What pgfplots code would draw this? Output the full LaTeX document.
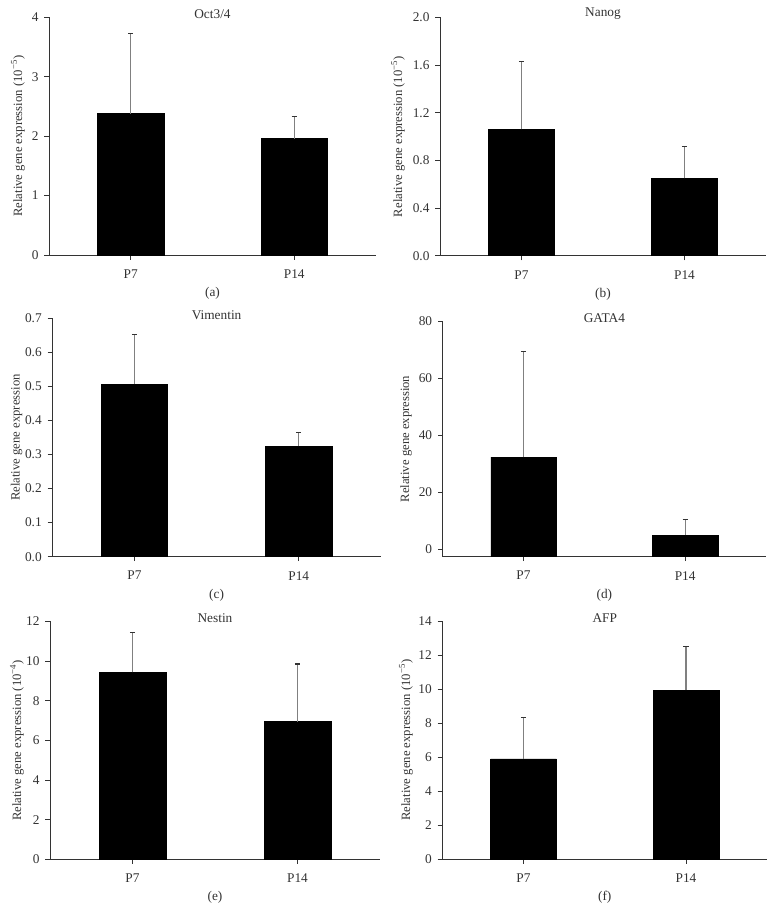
\documentclass[border=0pt]{standalone}
\usepackage{fontspec}
\setmainfont{Liberation Serif}
\usepackage{pgfplots}
\pgfplotsset{compat=1.18}
\definecolor{txt}{HTML}{333333}
\definecolor{axc}{HTML}{333333}
\definecolor{errc}{HTML}{808080}
\pgfplotsset{
  panel/.style={
    scale only axis,
    axis lines*=left,
    axis line style={axc, line width=0.6pt},
    tick style={axc, line width=0.6pt},
    tick align=outside,
    major tick length=3.4pt,
    xmin=-0.5, xmax=1.5,
    xtick={0,1}, xticklabels={P7,P14},
    ymin=0,
    font=\fontsize{10}{12}\selectfont,
    every tick label/.append style={text=txt, font=\fontsize{10}{12}\selectfont},
    /pgf/number format/assume math mode=true,
    yticklabel style={xshift=-1pt},
    xticklabel style={yshift=-4pt},
    every axis title/.style={at={(0.5,1)}, anchor=center, yshift=2.5pt, text=txt, font=\fontsize{10}{12}\selectfont},
    every axis x label/.style={at={(0.5,0)}, anchor=center, yshift=-28.8pt, text=txt, font=\fontsize{10}{12}\selectfont},
    clip=false,
  },
  ylab/.style={every axis y label/.style={at={(-#1,0.5)}, rotate=90, anchor=center, text=txt, font=\fontsize{9.5}{11}\selectfont}},
  mybar/.style={
    ybar, bar width=0.405, fill=black, draw=black,
    error bars/.cd, y dir=plus, y explicit,
    error bar style={errc, line width=1pt},
    error mark options={black!80, line width=0.8pt, mark size=2pt, rotate=90},
  },
}
\begin{document}
\begin{tikzpicture}
\path[use as bounding box] (0,0) rectangle (582pt,682.5pt);
% (a)
\begin{axis}[panel, ylab=0.0948, at={(36.75pt,491.25pt)}, anchor=south west,
  width=245.25pt, height=178.3pt, ymax=4, ytick={0,1,2,3,4},
  title={Oct3/4}, xlabel={(a)},
  ylabel={Relative gene expression (10\textsuperscript{−5})}]
\addplot[mybar] coordinates {(0,2.38) +- (0,1.35) (1,1.96) +- (0,0.37)};
\end{axis}
% (b)
\begin{axis}[panel, ylab=0.1288, at={(330pt,490.7pt)}, anchor=south west,
  width=244.5pt, height=178.8pt, ymax=2, ytick={0,0.4,0.8,1.2,1.6,2.0},
  yticklabel style={/pgf/number format/.cd, fixed, fixed zerofill, precision=1},
  title={Nanog}, xlabel={(b)},
  ylabel={Relative gene expression (10\textsuperscript{−5})}]
\addplot[mybar] coordinates {(0,1.061) +- (0,0.570) (1,0.649) +- (0,0.271)};
\end{axis}
% (c)
\begin{axis}[panel, ylab=0.1083, at={(39.2pt,264.98pt)}, anchor=south west,
  width=246.5pt, height=178.8pt, ymax=0.7, ytick={0,0.1,0.2,0.3,0.4,0.5,0.6,0.7},
  yticklabel style={/pgf/number format/.cd, fixed, fixed zerofill, precision=1},
  title={Vimentin}, xlabel={(c)},
  ylabel={Relative gene expression}]
\addplot[mybar] coordinates {(0,0.507) +- (0,0.145) (1,0.325) +- (0,0.039)};
\end{axis}
% (d)
\begin{axis}[panel, ylab=0.1134, at={(332pt,265pt)}, anchor=south west,
  width=242.5pt, height=176.5pt, ymin=-2.6, ymax=80, ytick={0,20,40,60,80},
  title={GATA4}, xlabel={(d)},
  ylabel={Relative gene expression}]
\addplot[ybar, bar width=0.405, fill=black, draw=black] coordinates {(0,-2.6) (1,-2.6)};
\addplot[mybar] coordinates {(0,32.3) +- (0,37.0) (1,5.0) +- (0,5.3)};
\end{axis}
% (e)
\begin{axis}[panel, ylab=0.1, at={(37.5pt,38pt)}, anchor=south west,
  width=247.5pt, height=178.5pt, ymax=12, ytick={0,2,4,6,8,10,12},
  title={Nestin}, xlabel={(e)},
  ylabel={Relative gene expression (10\textsuperscript{−4})}]
\addplot[mybar] coordinates {(0,9.43) +- (0,2.0) (1,6.94) +- (0,2.91)};
\end{axis}
% (f)
\begin{axis}[panel, ylab=0.1116, at={(331.7pt,38.25pt)}, anchor=south west,
  width=243.75pt, height=178.3pt, ymax=14, ytick={0,2,4,6,8,10,12,14},
  title={AFP}, xlabel={(f)},
  ylabel={Relative gene expression (10\textsuperscript{−5})}]
\addplot[mybar] coordinates {(0,5.89) +- (0,2.46) (1,9.94) +- (0,2.59)};
\end{axis}
\end{tikzpicture}
\end{document}
